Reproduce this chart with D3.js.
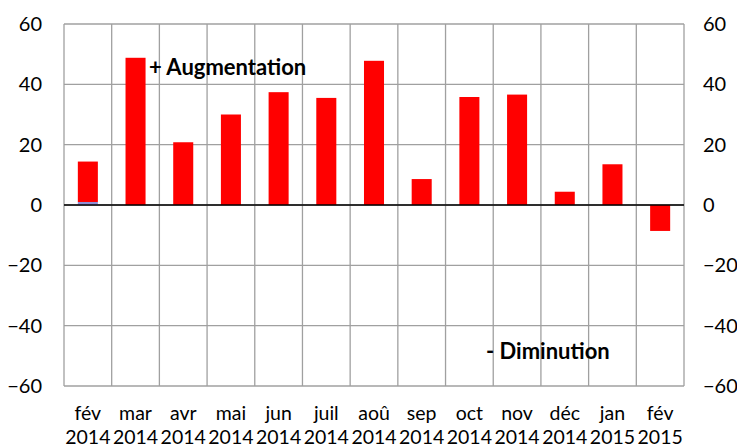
<!DOCTYPE html>
<html>
<head>
<meta charset="utf-8">
<script src="https://cdn.jsdelivr.net/npm/d3@7"></script>
<style>
  body { margin: 0; background: #fff; }
  text { font-family: Lato, "Open Sans", sans-serif; }
</style>
</head>
<body>
<svg id="plotarea"></svg>
<script>
var months = ["fév", "mar", "avr", "mai", "jun", "juil", "aoû", "sep", "oct", "nov", "déc", "jan", "fév"];
var years = ["2014", "2014", "2014", "2014", "2014", "2014", "2014", "2014", "2014", "2014", "2014", "2015", "2015"];
var redValues = [13.4, 48.8, 20.8, 30.0, 37.4, 35.5, 47.8, 8.6, 35.8, 36.6, 4.4, 13.5, -8.6];
var blueValues = [1.0, 0, 0, 0, 0, 0, 0, 0, 0, 0, 0, 0, 0];
var yTicks = [-60, -40, -20, 0, 20, 40, 60];

var margin = {top: 24, right: 53, bottom: 62, left: 64};
var width = 737 - margin.left - margin.right;
var height = 448 - margin.top - margin.bottom;

var svg = d3.select("#plotarea")
    .attr("width", 737)
    .attr("height", 448);
var g = svg.append("g")
    .attr("transform", "translate(" + margin.left + "," + margin.top + ")");

var x = d3.scaleBand()
    .domain(d3.range(months.length))
    .range([0, width])
    .paddingInner(0.58)
    .paddingOuter(0.29);
var step = width / months.length;

var y = d3.scaleLinear()
    .domain([-60, 60])
    .range([height, 0]);

// grid
g.selectAll(".hgrid")
    .data(yTicks)
    .enter().append("line")
    .attr("x1", 0).attr("x2", width)
    .attr("y1", function(d) { return y(d); })
    .attr("y2", function(d) { return y(d); })
    .attr("stroke", "#a0a0a0")
    .attr("stroke-width", 1.3);

g.selectAll(".vgrid")
    .data(d3.range(months.length + 1))
    .enter().append("line")
    .attr("x1", function(d) { return d * step; })
    .attr("x2", function(d) { return d * step; })
    .attr("y1", 0).attr("y2", height)
    .attr("stroke", "#a0a0a0")
    .attr("stroke-width", 1.3);

// bars
g.selectAll(".blue")
    .data(blueValues)
    .enter().append("rect")
    .attr("x", function(d, i) { return x(i); })
    .attr("width", x.bandwidth())
    .attr("y", function(d) { return y(Math.max(0, d)); })
    .attr("height", function(d) { return Math.abs(y(d) - y(0)); })
    .attr("fill", "#8f8fd6");

g.selectAll(".red")
    .data(redValues)
    .enter().append("rect")
    .attr("x", function(d, i) { return x(i); })
    .attr("width", x.bandwidth())
    .attr("y", function(d, i) {
        var base = d > 0 ? blueValues[i] : 0;
        return d > 0 ? y(base + d) : y(0);
    })
    .attr("height", function(d) { return Math.abs(y(d) - y(0)); })
    .attr("fill", "#ff0000");

// zero line
g.append("line")
    .attr("x1", 0).attr("x2", width)
    .attr("y1", y(0)).attr("y2", y(0))
    .attr("stroke", "#000")
    .attr("stroke-width", 1.6);

// y axes
var left = g.append("g").call(d3.axisLeft(y).tickValues(yTicks).tickSize(0).tickPadding(22));
var right = g.append("g").attr("transform", "translate(" + width + ",0)")
    .call(d3.axisRight(y).tickValues(yTicks).tickSize(0).tickPadding(19));
[left, right].forEach(function(a) {
    a.select(".domain").remove();
    a.selectAll("text").attr("font-size", 20).attr("fill", "#000")
        .attr("font-family", "Lato, 'Open Sans', sans-serif");
});

// x labels
var xl = g.selectAll(".xl")
    .data(months)
    .enter().append("text")
    .attr("text-anchor", "middle")
    .attr("font-size", 19.5)
    .attr("x", function(d, i) { return i * step + step / 2; });
xl.append("tspan")
    .attr("x", function(d, i) { return i * step + step / 2; })
    .attr("y", height + 34)
    .text(function(d) { return d; });
xl.append("tspan")
    .attr("x", function(d, i) { return i * step + step / 2; })
    .attr("y", height + 58)
    .text(function(d, i) { return years[i]; });

// annotations
g.append("text")
    .attr("x", 149 - margin.left)
    .attr("y", y(43))
    .attr("font-size", 22)
    .attr("font-weight", "bold")
    .text("+ Augmentation");
g.append("text")
    .attr("x", 486 - margin.left)
    .attr("y", y(-51))
    .attr("font-size", 22)
    .attr("font-weight", "bold")
    .text("- Diminution");
</script>
</body>
</html>
